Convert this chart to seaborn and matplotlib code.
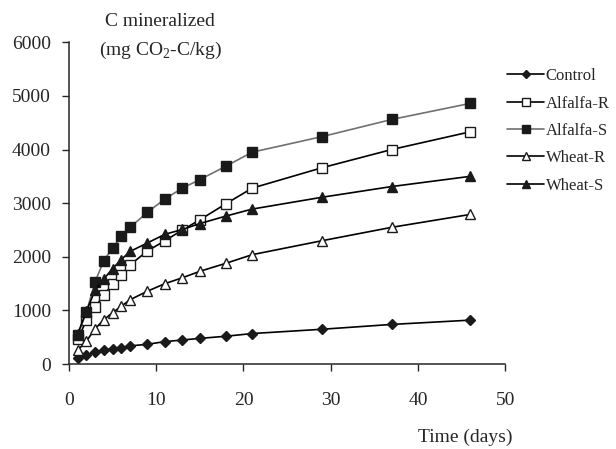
import pandas as pd
import matplotlib.pyplot as plt
import seaborn as sns

sns.set_style("ticks")
plt.rcParams['font.family'] = ['Liberation Serif', 'DejaVu Serif']
plt.rcParams['mathtext.fontset'] = 'custom'
plt.rcParams['mathtext.rm'] = 'Liberation Serif'

# Sampling days
days = [1, 2, 3, 4, 5, 6, 7, 9, 11, 13, 15, 18, 21, 29, 37, 46]

# Cumulative C mineralized (mg CO2-C/kg)
control = [120, 170, 220, 260, 290, 310, 340, 370, 420, 450, 480, 520, 570, 650, 740, 820]
alfalfa_r = [460, 820, 1070, 1280, 1500, 1670, 1850, 2110, 2300, 2500, 2690, 2990, 3280, 3660, 4000, 4330]
alfalfa_s = [540, 970, 1540, 1930, 2170, 2380, 2550, 2830, 3080, 3280, 3440, 3690, 3950, 4240, 4560, 4860]
wheat_r = [260, 430, 660, 830, 960, 1080, 1200, 1360, 1500, 1610, 1730, 1880, 2040, 2300, 2550, 2790]
wheat_s = [560, 990, 1380, 1590, 1780, 1950, 2100, 2260, 2420, 2510, 2620, 2760, 2890, 3110, 3310, 3500]

series = [
    ('Control', control, 'D', 'black', '#1a1a1a', 5.5),
    ('Alfalfa-R', alfalfa_r, 's', 'black', 'white', 6.5),
    ('Alfalfa-S', alfalfa_s, 's', '#707070', '#1a1a1a', 6.5),
    ('Wheat-R', wheat_r, '^', 'black', 'white', 7),
    ('Wheat-S', wheat_s, '^', 'black', '#1a1a1a', 7),
]

fig = plt.figure(figsize=(6.16, 4.49), dpi=100)
ax = fig.add_axes([0.112, 0.189, 0.708, 0.717])

for name, vals, mk, lc, fc, ms in series:
    df = pd.DataFrame({'Day': days, 'C': vals})
    sns.lineplot(data=df, x='Day', y='C', ax=ax, color=lc, linewidth=1.2,
                 marker=mk, markersize=ms, markerfacecolor=fc,
                 markeredgecolor='#1a1a1a', markeredgewidth=1.0, label=name)

ax.set_xlim(0, 50)
ax.set_ylim(0, 6000)
ax.set_xticks(range(0, 51, 10))
ax.set_yticks(range(0, 6001, 1000))
ax.tick_params(axis='x', direction='out', length=5, width=1, pad=15, labelsize=14)
ax.tick_params(axis='y', direction='out', length=5, width=1, pad=8, labelsize=14)
sns.despine(ax=ax)
for s in ['left', 'bottom']:
    ax.spines[s].set_linewidth(1.1)
ax.set_xlabel('')
ax.set_ylabel('')

fig.text(0.26, 0.952, 'C mineralized', ha='center', va='center', fontsize=14)
fig.text(0.26, 0.888, r'(mg CO$_2$-C/kg)', ha='center', va='center', fontsize=14)
fig.text(0.755, 0.027, 'Time (days)', ha='center', va='center', fontsize=14)

ax.legend(loc='upper left', bbox_to_anchor=(0.99, 0.94), frameon=False,
          fontsize=12, handlelength=2.2, handletextpad=0.1, labelspacing=0.68,
          borderaxespad=0, markerscale=0.8)

fig.savefig('out.png', dpi=100)
